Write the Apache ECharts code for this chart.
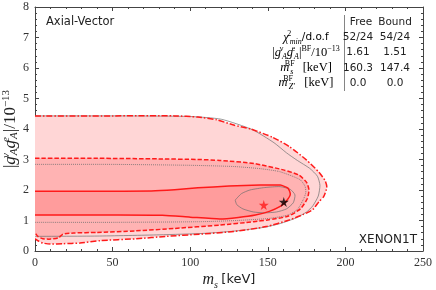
<!DOCTYPE html>
<html><head><meta charset="utf-8">
<script src="https://cdn.jsdelivr.net/npm/echarts@6/dist/echarts.min.js"></script>
<style>html,body{margin:0;padding:0;background:#fff}#c{width:436px;height:290px}</style>
</head><body><div id="c"></div>
<script>
// ---- data (m_s in keV, |g_A^nu g_A^e| in 1e-13) ----
const xTickValues = [0, 50, 100, 150, 200, 250];
const yTickValues = [0, 1, 2, 3, 4, 5, 6, 7, 8];

// Bound fit, 3 sigma (dash-dot), starts at x=0 top, ends at x=0 bottom
const bound3sigma = [[0,4.43],[50,4.43],[90,4.43],[105,4.39],[117,4.30],[128,4.13],[139,4.00],[153,3.73],[164,3.42],[175,2.98],[183,2.58],[187,2.30],[188,2.08],[186,1.78],[183,1.62],[179,1.36],[173,1.20],[164,1.02],[149,0.80],[128,0.64],[106,0.55],[85,0.48],[65,0.40],[42,0.34],[29,0.26],[18,0.24],[10,0.23],[5,0.26],[2.5,0.32],[0,0.40]];
// Bound fit, 2 sigma (dashed)
const bound2sigma = [[0,3.04],[40,3.04],[80,3.02],[105,3.00],[119,2.97],[141,2.87],[160,2.66],[170,2.49],[175,2.25],[176.5,2.00],[175.5,1.72],[171,1.38],[163,1.14],[150,1.02],[141,0.96],[119,0.85],[90,0.74],[65,0.66],[40,0.61],[25,0.59],[18,0.55],[15,0.43],[10,0.39],[5,0.40],[2,0.47],[0,0.60]];
// Bound fit, 1 sigma (solid)
const bound1sigma = [[0,1.96],[40,1.96],[75,1.97],[90,2.01],[105,2.07],[125,2.13],[145,2.16],[158,2.16],[163,2.06],[164.5,1.86],[162,1.64],[158,1.46],[151,1.30],[142,1.18],[131,1.10],[119,1.05],[100,1.11],[82,1.17],[50,1.18],[0,1.18]];
// Free fit, 3 sigma (thin grey)
const free3sigma = [[0,4.43],[60,4.43],[100,4.41],[120,4.32],[140,3.98],[154,3.55],[162,3.22],[169,2.97],[177,2.71],[182,2.45],[183.6,2.15],[182.5,1.80],[179,1.48],[175,1.28],[168,1.08],[158,0.90],[148,0.78],[130,0.66],[110,0.58],[80,0.53],[40,0.49],[0,0.48]];
// Free fit, 2 sigma (grey dotted)
const free2sigma = [[0,2.84],[50,2.84],[100,2.81],[128,2.77],[145,2.70],[157,2.61],[165,2.47],[171,2.33],[174,2.12],[174.5,1.92],[173,1.70],[169,1.36],[163,1.18],[151,1.07],[130,1.00],[106,0.96],[50,0.94],[0,0.94]];
// Free fit, 1 sigma (thin grey closed loop)
const free1sigma = [[129,1.67],[133,1.88],[138.5,2.00],[148,2.08],[158,2.11],[164.5,2.02],[167.5,1.84],[166.4,1.58],[162,1.38],[155.7,1.28],[148,1.25],[140.7,1.28],[134,1.38],[130,1.52],[129,1.67]];

const bestFitFree = [[160.3, 1.61]];
const bestFitBound = [[147.4, 1.51]];

const tableHeader = ['Free', 'Bound'];
const tableLabels = [
  '{i|χ}{supw|2}{sub|min}{s|/d.o.f}',
  '{r||}{i|g}{supw|ν}{sub|A}{i|g}{supw|e}{sub|A}{r||}{sup|BF}{r|/10}{sup|−13}',
  '{i|m}{supw|BF}{sub|s}{r|   [keV]}',
  '{i|m}{supw|BF}{sub|Z′}{r|   [keV]}'
];
const freeValues = ['52/24', '1.61', '160.3', '0.0'];
const boundValues = ['54/24', '1.51', '147.4', '0.0'];

// ---- rendering ----
const SERIF = 'Liberation Serif';
const SANS = 'DejaVu Sans';
const chart = echarts.init(document.getElementById('c'), null, {renderer: 'canvas'});

// closed fill regions are closed just left of the y axis (hidden by clipping)
function closeLeft(pts) {
  return [[-12, pts[0][1]]].concat(pts, [[-12, pts[pts.length - 1][1]]]);
}

function shapeSeries(pts, closed, style, z) {
  return {
    type: 'custom', coordinateSystem: 'cartesian2d', clip: true, silent: true, z: z,
    data: pts, encode: {x: 0, y: 1},
    renderItem: function (params, api) {
      if (params.dataIndex !== 0) return null;
      const p = pts.map(function (d) { return api.coord(d); });
      return {
        type: closed ? 'polygon' : 'polyline',
        shape: {points: p, smooth: 0.2},
        style: style
      };
    }
  };
}
const RED = '#ff1a1a';
const GREY = '#6e6e6e';
const STAR = 'path://M50,0 L61,35 L98,35 L68,57 L79,91 L50,70 L21,91 L32,57 L2,35 L39,35 Z';
const series = [
  shapeSeries(closeLeft(bound3sigma), true, {fill: '#ffd6d6', stroke: null}, 1),
  shapeSeries(closeLeft(bound2sigma), true, {fill: '#ffb3b3', stroke: null}, 2),
  shapeSeries(closeLeft(bound1sigma), true, {fill: '#ff9c9c', stroke: null}, 3),
  shapeSeries(free3sigma, false, {fill: null, stroke: GREY, lineWidth: 0.7}, 4),
  shapeSeries(free2sigma, false, {fill: null, stroke: GREY, lineWidth: 0.8, lineDash: [1, 1]}, 4),
  shapeSeries(free1sigma, false, {fill: null, stroke: GREY, lineWidth: 0.7}, 4),
  shapeSeries(bound3sigma, false, {fill: null, stroke: RED, lineWidth: 1.5, lineDash: [6, 2, 1.5, 2]}, 5),
  shapeSeries(bound2sigma, false, {fill: null, stroke: RED, lineWidth: 1.5, lineDash: [4.5, 2]}, 5),
  shapeSeries(bound1sigma, false, {fill: null, stroke: RED, lineWidth: 1.5}, 5),
  {type: 'scatter', data: bestFitBound, z: 6, silent: true, symbol: STAR, symbolSize: 10, itemStyle: {color: '#ff1a1a'}},
  {type: 'scatter', data: bestFitFree, z: 6, silent: true, symbol: STAR, symbolSize: 10, itemStyle: {color: '#000'}}
];

const axisLineStyle = {color: '#444', width: 1};
function baseAxis(ticks, extra) {
  return Object.assign({
    type: 'value', min: ticks[0], max: ticks[ticks.length - 1],
    interval: ticks[1] - ticks[0],
    axisLine: {show: true, onZero: false, lineStyle: axisLineStyle},
    axisTick: {show: true, inside: true, length: 4, lineStyle: {color: '#444'}},
    minorTick: {show: true, splitNumber: 5, length: 2, lineStyle: {color: '#444'}},
    splitLine: {show: false}
  }, extra);
}

const supRich = {
  i: {fontFamily: SERIF, fontStyle: 'italic', fontSize: 17, lineHeight: 19, color: '#222'},
  r: {fontFamily: SERIF, fontSize: 17, lineHeight: 19, color: '#222'},
  sup: {fontFamily: SERIF, fontSize: 11, lineHeight: 10, verticalAlign: 'top', color: '#222'},
  supw: {fontFamily: SERIF, fontStyle: 'italic', fontSize: 11, lineHeight: 10, verticalAlign: 'top', width: 1, color: '#222'},
  sub: {fontFamily: SERIF, fontStyle: 'italic', fontSize: 11, lineHeight: 9, verticalAlign: 'bottom', color: '#222'}
};

const tRich = {
  i: {fontFamily: SERIF, fontStyle: 'italic', fontSize: 12.5, lineHeight: 16, color: '#222'},
  r: {fontFamily: SERIF, fontSize: 12.5, lineHeight: 16, color: '#222'},
  s: {fontFamily: SANS, fontSize: 10.5, lineHeight: 16, color: '#222'},
  sup: {fontFamily: SERIF, fontSize: 8, lineHeight: 9, verticalAlign: 'top', color: '#222'},
  supw: {fontFamily: SERIF, fontSize: 8, lineHeight: 9, verticalAlign: 'top', width: 1, color: '#222'},
  sub: {fontFamily: SERIF, fontStyle: 'italic', fontSize: 8, lineHeight: 8, verticalAlign: 'bottom', color: '#222'}
};

const rowY = [37.5, 52.5, 68, 83];
const FONT = '10.5px "' + SANS + '"';
const graphics = [
  {type: 'text', left: 46, top: 16, z: 10, style: {text: 'Axial-Vector', font: '11.5px "' + SANS + '"', fill: '#222'}},
  {type: 'text', right: 19, top: 234, z: 10, style: {text: 'XENON1T', font: '12px "' + SANS + '"', fill: '#222'}},
  {type: 'line', z: 10, shape: {x1: 344.5, y1: 15, x2: 344.5, y2: 91}, style: {stroke: '#666', lineWidth: 0.8}},
  {type: 'text', z: 10, x: 361, y: 22.5, style: {text: tableHeader[0], font: FONT, fill: '#222', align: 'center', verticalAlign: 'middle'}},
  {type: 'text', z: 10, x: 395, y: 22.5, style: {text: tableHeader[1], font: FONT, fill: '#222', align: 'center', verticalAlign: 'middle'}}
];
tableLabels.forEach(function (t, k) {
  graphics.push({type: 'text', z: 10, x: 306, y: rowY[k], style: {text: t, rich: tRich, align: 'center', verticalAlign: 'middle'}});
  graphics.push({type: 'text', z: 10, x: 358, y: rowY[k], style: {text: freeValues[k], font: FONT, fill: '#222', align: 'center', verticalAlign: 'middle'}});
  graphics.push({type: 'text', z: 10, x: 395, y: rowY[k], style: {text: boundValues[k], font: FONT, fill: '#222', align: 'center', verticalAlign: 'middle'}});
});

chart.setOption({
  animation: false,
  backgroundColor: '#fff',
  grid: {left: 35, right: 13, top: 7, bottom: 39, containLabel: false, outerBoundsMode: 'none'},
  xAxis: [
    baseAxis(xTickValues, {
      position: 'bottom',
      axisLabel: {fontFamily: SERIF, fontSize: 12, color: '#333', margin: 6},
      name: '{i|m}{sub|s} {t|[keV]}', nameLocation: 'middle', nameGap: 19, nameMoveOverlap: false,
      nameTextStyle: {rich: {
        i: {fontFamily: SERIF, fontStyle: 'italic', fontSize: 16, lineHeight: 20, color: '#222'},
        sub: {fontFamily: SERIF, fontStyle: 'italic', fontSize: 10, lineHeight: 10, verticalAlign: 'bottom', color: '#222'},
        t: {fontFamily: SANS, fontSize: 13, lineHeight: 20, color: '#222'}
      }}
    }),
    baseAxis(xTickValues, {position: 'top', axisLabel: {show: false}})
  ],
  yAxis: [
    baseAxis(yTickValues, {
      position: 'left',
      axisLabel: {fontFamily: SERIF, fontSize: 12, color: '#333', margin: 6},
      name: '{r||}{i|g}{supw|ν}{sub|A}{i|g}{supw|e}{sub|A}{r||/10}{sup|−13}', nameLocation: 'middle', nameGap: 15,
      nameMoveOverlap: false, nameRotate: 90,
      nameTextStyle: {rich: supRich}
    }),
    baseAxis(yTickValues, {position: 'right', axisLabel: {show: false}})
  ],
  series: series,
  graphic: graphics
});
</script>
</body></html>
